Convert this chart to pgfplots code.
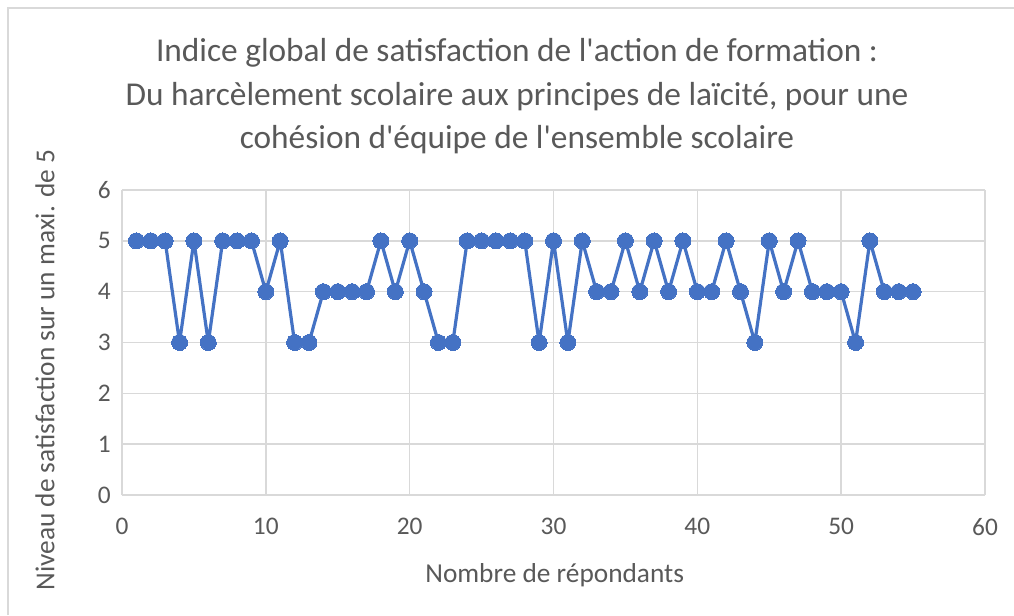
\documentclass[border=0pt]{standalone}
\usepackage{fontspec}
\setmainfont{Carlito}[Ligatures=TeXOff]
\usepackage{pgfplots}
\pgfplotsset{compat=1.18}
\definecolor{serie}{HTML}{4472C4}
\definecolor{grille}{HTML}{D9D9D9}
\definecolor{texte}{HTML}{595959}
\begin{document}
\begin{tikzpicture}
% page 1014 x 615 px, 1 px = 0.75 pt
\useasboundingbox (0,0) rectangle (760.5pt,461.25pt);
\fill[white] (0,0) rectangle (760.5pt,461.25pt);
\draw[grille,line width=1.5pt] (6pt,0) -- (6pt,455pt) -- (760.5pt,455pt);
\node[texte,font=\fontsize{25}{32.5}\selectfont,align=center] at (387.75pt,389pt)
  {Indice global de satisfaction de l'action de formation :\\
   Du harcèlement scolaire aux principes de laïcité, pour une\\
   cohésion d'équipe de l'ensemble scolaire};
\node[texte,font=\fontsize{20.5}{24}\selectfont] at (416pt,30pt) {Nombre de répondants};
\node[texte,font=\fontsize{20.5}{24}\selectfont,rotate=90] at (33.75pt,183.75pt)
  {Niveau de satisfaction sur un maxi. de 5};
\begin{axis}[
    at={(91.5pt,90pt)}, anchor=south west,
    scale only axis,
    width=647.25pt, height=228.75pt,
    xmin=0, xmax=60, ymin=0, ymax=6,
    xtick={0,10,...,60}, ytick={0,1,...,6},
    grid=major,
    grid style={grille,line width=1.1pt},
    axis line style={draw=none},
    major tick length=0pt,
    tick label style={texte,font=\fontsize{19}{22}\selectfont},
    /pgf/number format/assume math mode=true,
    xticklabel style={yshift=-14pt},
    yticklabel style={xshift=-5pt},
  ]
\addplot[serie,line width=2.4pt,line join=round,mark=*,mark size=6pt,
         mark options={fill=serie,draw=serie,line width=0pt}] coordinates {
  (1,5) (2,5) (3,5) (4,3) (5,5) (6,3) (7,5) (8,5) (9,5) (10,4)
  (11,5) (12,3) (13,3) (14,4) (15,4) (16,4) (17,4) (18,5) (19,4) (20,5)
  (21,4) (22,3) (23,3) (24,5) (25,5) (26,5) (27,5) (28,5) (29,3) (30,5)
  (31,3) (32,5) (33,4) (34,4) (35,5) (36,4) (37,5) (38,4) (39,5) (40,4)
  (41,4) (42,5) (43,4) (44,3) (45,5) (46,4) (47,5) (48,4) (49,4) (50,4)
  (51,3) (52,5) (53,4) (54,4) (55,4)
};
\end{axis}
\end{tikzpicture}
\end{document}
